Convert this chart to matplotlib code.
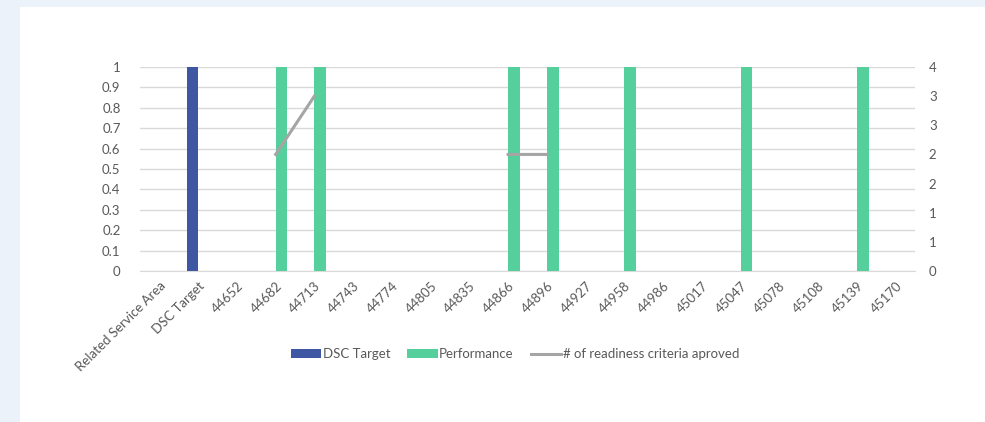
import numpy as np
import matplotlib.pyplot as plt
from matplotlib.patches import Rectangle

plt.rcParams["font.family"] = ["Lato", "DejaVu Sans"]

categories = ["Related Service Area", "DSC Target", "44652", "44682", "44713", "44743",
              "44774", "44805", "44835", "44866", "44896", "44927", "44958", "44986",
              "45017", "45047", "45078", "45108", "45139", "45170"]
dsc_target = [0, 1, 0, 0, 0, 0, 0, 0, 0, 0, 0, 0, 0, 0, 0, 0, 0, 0, 0, 0]
performance = [0, 0, 0, 1, 1, 0, 0, 0, 0, 1, 1, 0, 1, 0, 0, 1, 0, 0, 1, 0]
criteria = [np.nan, np.nan, np.nan, 2, 3, np.nan, np.nan, np.nan, np.nan, 2, 2,
            np.nan, np.nan, np.nan, np.nan, np.nan, np.nan, np.nan, np.nan, np.nan]
left_ticks = [0, 0.1, 0.2, 0.3, 0.4, 0.5, 0.6, 0.7, 0.8, 0.9, 1]
left_tick_labels = ["0", "0.1", "0.2", "0.3", "0.4", "0.5", "0.6", "0.7", "0.8", "0.9", "1"]
right_ticks = [0, 0.5, 1, 1.5, 2, 2.5, 3, 3.5]
right_tick_labels = ["0", "1", "1", "2", "2", "3", "3", "4"]

BLUE = "#3F56A3"
GREEN = "#55CF9C"
GREY = "#A5A5A5"
TXT = "#595959"
GRID = "#D9D9D9"
FS = 9.5

fig = plt.figure(figsize=(9.85, 4.22), dpi=100)
fig.patch.set_facecolor("#EBF2FA")
fig.patches.append(Rectangle((20 / 985, 0), 1, 1 - 7 / 422, transform=fig.transFigure,
                             facecolor="white", edgecolor="none", zorder=-10))

ax = fig.add_axes([140 / 985, 1 - 271 / 422, 775 / 985, 204 / 422])
ax.set_facecolor("none")
x = np.arange(len(categories))
w = 0.3
ax.bar(x - w / 2, dsc_target, w, color=BLUE, label="DSC Target", zorder=3)
ax.bar(x + w / 2, performance, w, color=GREEN, label="Performance", zorder=3)
ax.set_xlim(-0.5, len(categories) - 0.5)
ax.set_ylim(0, 1)
ax.set_yticks(left_ticks)
ax.set_yticklabels(left_tick_labels)
ax.set_xticks(x)
ax.set_xticklabels(categories, rotation=45, ha="right", rotation_mode="anchor")
ax.grid(axis="y", color=GRID, linewidth=1, zorder=0)
for s in ["top", "left", "right"]:
    ax.spines[s].set_visible(False)
ax.spines["bottom"].set_color(GRID)
ax.tick_params(axis="both", length=0, colors=TXT, labelsize=FS)
ax.tick_params(axis="x", pad=6)
ax.tick_params(axis="y", pad=14)

ax2 = ax.twinx()
ln, = ax2.plot(x, criteria, color=GREY, linewidth=2.2, label="# of readiness criteria aproved", zorder=4)
ax2.set_ylim(0, 3.5)
ax2.set_yticks(right_ticks)
ax2.set_yticklabels(right_tick_labels)
for s in ax2.spines.values():
    s.set_visible(False)
ax2.tick_params(axis="y", length=0, colors=TXT, labelsize=FS, pad=10)

h1, l1 = ax.get_legend_handles_labels()
fig.legend(h1 + [ln], l1 + [ln.get_label()], loc="center", bbox_to_anchor=(515 / 985, 1 - 354 / 422),
           ncol=3, frameon=False, fontsize=FS, labelcolor=TXT, handlelength=2.3,
           handleheight=0.6, handletextpad=0.1, columnspacing=1.3)

fig.savefig("out.png", dpi=100)
